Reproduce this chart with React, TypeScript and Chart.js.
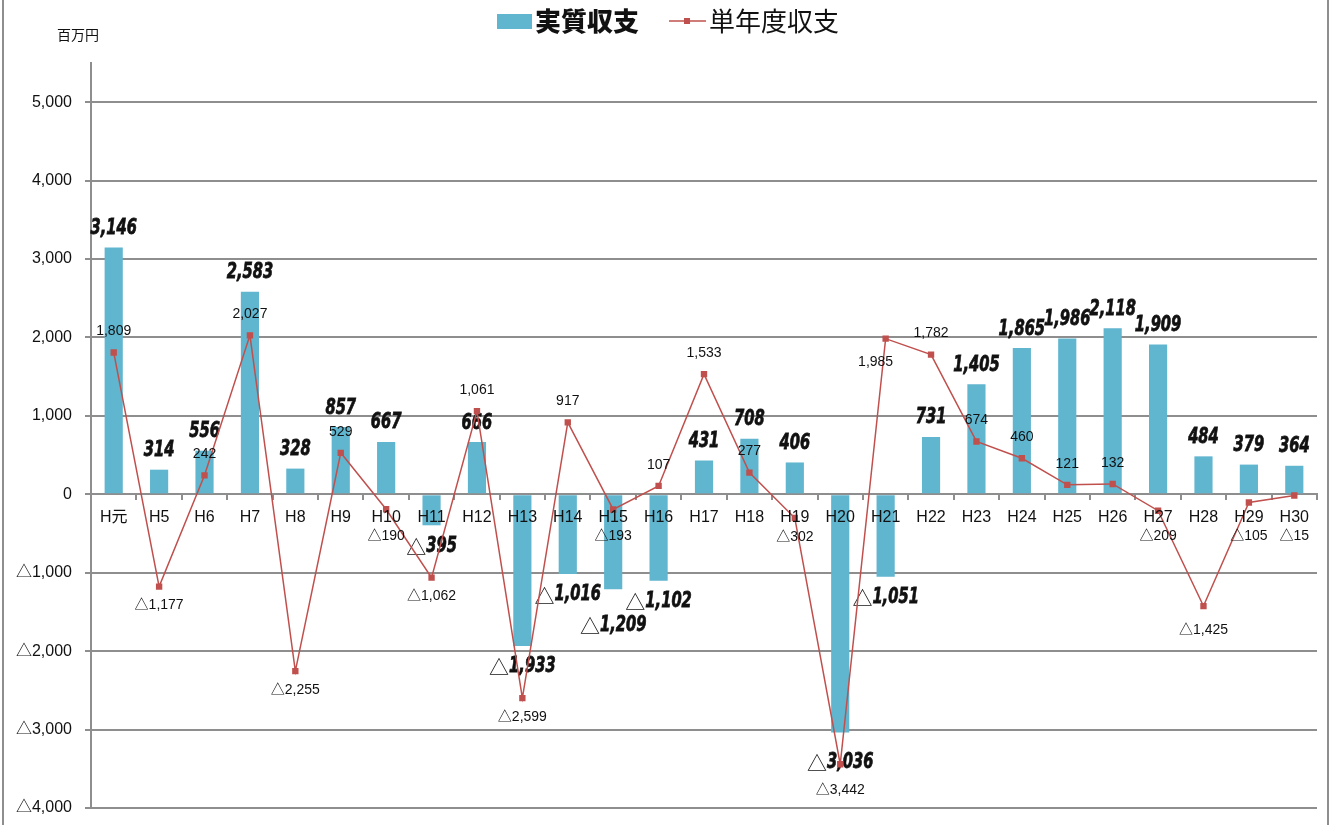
import React, { useEffect, useRef } from 'react';
import { Chart, registerables } from 'chart.js';

Chart.register(...registerables);

// ---- data ----
const categories = ['H元', 'H5', 'H6', 'H7', 'H8', 'H9', 'H10', 'H11', 'H12', 'H13', 'H14', 'H15', 'H16', 'H17', 'H18', 'H19', 'H20', 'H21', 'H22', 'H23', 'H24', 'H25', 'H26', 'H27', 'H28', 'H29', 'H30'];
const actualBalance = [3146, 314, 556, 2583, 328, 857, 667, -395, 666, -1933, -1016, -1209, -1102, 431, 708, 406, -3036, -1051, 731, 1405, 1865, 1986, 2118, 1909, 484, 379, 364];
const singleYearBalance = [1809, -1177, 242, 2027, -2255, 529, -190, -1062, 1061, -2599, 917, -193, 107, 1533, 277, -302, -3442, 1985, 1782, 674, 460, 121, 132, -209, -1425, -105, -15];
const yTickValues = [-4000, -3000, -2000, -1000, 0, 1000, 2000, 3000, 4000, 5000];
const barSeriesName = '実質収支';
const lineSeriesName = '単年度収支';
const unitLabel = '百万円';
const yMin = -4000;
const yMax = 5500;
// label placement tweaks (style only)
const lineLabelBelowLeft = ['H21'];
const barLabelExtraDrop: Record<string, number> = { H15: 15, H20: 9 };
const lineLabelExtraDrop: Record<string, number> = { H20: 7, H28: 5 };

// ---- style ----
const BAR_COLOR = '#60b5cf';
const LINE_COLOR = '#c0504d';
const GRID_COLOR = '#8e8e8e';
const TEXT_COLOR = '#111111';
const SANS = "'Liberation Sans', 'Noto Sans CJK JP', sans-serif";
const POP = "'DejaVu Sans', 'Noto Sans CJK JP', sans-serif";
const CJK = "'Noto Sans CJK JP', sans-serif";

const NEG = '△';
const fmtAbs = (v: number) => Math.abs(v).toLocaleString('en-US');
const fmt = (v: number) => (v < 0 ? NEG + fmtAbs(v) : fmtAbs(v));

const decorPlugin = {
  id: 'decor',
  beforeDraw(chart: any) {
    const ctx = chart.ctx;
    ctx.save();
    ctx.fillStyle = '#ffffff';
    ctx.fillRect(0, 0, chart.width, chart.height);
    ctx.strokeStyle = GRID_COLOR;
    ctx.lineWidth = 2;
    ctx.beginPath();
    ctx.moveTo(3, 0);
    ctx.lineTo(3, chart.height);
    ctx.moveTo(1328, 0);
    ctx.lineTo(1328, chart.height);
    ctx.stroke();
    ctx.restore();
  },
  afterDatasetDraw(chart: any, args: any) {
    if (args.index !== 0) return;
    const ctx = chart.ctx;
    const meta = chart.getDatasetMeta(0);
    const sx = 0.7;
    ctx.save();
    ctx.fillStyle = TEXT_COLOR;
    ctx.strokeStyle = TEXT_COLOR;
    ctx.textAlign = 'left';
    ctx.textBaseline = 'middle';
    meta.data.forEach((el: any, i: number) => {
      const v = actualBalance[i];
      const extra = barLabelExtraDrop[categories[i]] || 0;
      const y = v >= 0 ? el.y - 19 : el.y + 21 + extra;
      const prefix = v < 0 ? NEG : '';
      const digits = fmtAbs(v);
      ctx.font = `20px ${CJK}`;
      const pw = prefix ? ctx.measureText(prefix).width : 0;
      ctx.font = `italic bold 21px ${POP}`;
      const dw = ctx.measureText(digits).width * sx;
      const start = el.x - (pw + dw) / 2;
      if (prefix) {
        ctx.font = `20px ${CJK}`;
        ctx.fillText(prefix, start, y + 1);
      }
      ctx.font = `italic bold 21px ${POP}`;
      ctx.save();
      ctx.translate(start + pw, y);
      ctx.scale(sx, 1);
      ctx.lineWidth = 0.8;
      ctx.fillText(digits, 0, 0);
      ctx.strokeText(digits, 0, 0);
      ctx.restore();
    });
    ctx.restore();
  },
  afterDatasetsDraw(chart: any) {
    const ctx = chart.ctx;
    const meta = chart.getDatasetMeta(1);
    const zeroY = chart.scales.y.getPixelForValue(0);
    ctx.save();
    ctx.fillStyle = TEXT_COLOR;
    ctx.textAlign = 'center';
    ctx.textBaseline = 'middle';
    ctx.font = `14px ${SANS}`;
    meta.data.forEach((el: any, i: number) => {
      const v = singleYearBalance[i];
      let x = el.x;
      let y;
      if (lineLabelBelowLeft.includes(categories[i])) {
        x = el.x - 10;
        y = el.y + 23;
      } else if (v >= 0) {
        y = el.y - 21;
      } else {
        y = Math.max(el.y + 19 + (lineLabelExtraDrop[categories[i]] || 0), zeroY + 42);
      }
      ctx.fillText(fmt(v), x, y);
    });

    // legend
    ctx.fillStyle = BAR_COLOR;
    ctx.fillRect(497, 14, 35, 15);
    ctx.fillStyle = TEXT_COLOR;
    ctx.textAlign = 'left';
    ctx.font = `900 26px ${CJK}`;
    ctx.fillText(barSeriesName, 535, 21);
    ctx.strokeStyle = LINE_COLOR;
    ctx.lineWidth = 1.5;
    ctx.beginPath();
    ctx.moveTo(669, 21);
    ctx.lineTo(706, 21);
    ctx.stroke();
    ctx.fillStyle = LINE_COLOR;
    ctx.fillRect(684, 18, 6, 6);
    ctx.fillStyle = TEXT_COLOR;
    ctx.font = `26px ${CJK}`;
    ctx.fillText(lineSeriesName, 709, 21);

    // unit
    ctx.font = `14px ${CJK}`;
    ctx.fillText(unitLabel, 57, 35);
    ctx.restore();
  },
};

export default function App() {
  const ref = useRef<HTMLCanvasElement | null>(null);
  useEffect(() => {
    if (!ref.current) return;
    const chart = new Chart(ref.current, {
      type: 'bar',
      data: {
        labels: categories,
        datasets: [
          {
            type: 'bar',
            label: barSeriesName,
            data: actualBalance,
            backgroundColor: BAR_COLOR,
            categoryPercentage: 1,
            barPercentage: 0.4,
            order: 1,
          },
          {
            type: 'line',
            label: lineSeriesName,
            data: singleYearBalance,
            borderColor: LINE_COLOR,
            backgroundColor: LINE_COLOR,
            borderWidth: 1.5,
            pointStyle: 'rect',
            pointRadius: 4.5,
            pointBorderWidth: 0,
            pointBackgroundColor: LINE_COLOR,
            tension: 0,
            order: 0,
          },
        ],
      },
      options: {
        responsive: false,
        animation: false,
        layout: { padding: { left: 0, right: 15, top: 63, bottom: 17 } },
        plugins: {
          legend: { display: false },
          tooltip: { enabled: false },
          title: { display: false },
        },
        scales: {
          x: {
            position: { y: 0 } as any,
            grid: {
              display: true,
              drawOnChartArea: false,
              drawTicks: true,
              tickLength: 5,
              color: GRID_COLOR,
              lineWidth: 2,
              offset: true,
            },
            border: { display: true, color: GRID_COLOR, width: 2 },
            ticks: {
              z: 1,
              color: TEXT_COLOR,
              font: { family: SANS, size: 16 },
              padding: 9,
              maxRotation: 0,
              autoSkip: false,
            },
          },
          y: {
            min: yMin,
            max: yMax,
            grid: { color: GRID_COLOR, lineWidth: 2, tickLength: 6, drawTicks: true },
            border: { display: true, color: GRID_COLOR, width: 2 },
            ticks: {
              color: TEXT_COLOR,
              font: { family: SANS, size: 16 },
              padding: 13,
              callback: (v: any) => fmt(Number(v)),
            },
            afterBuildTicks: (scale: any) => {
              scale.ticks = yTickValues.map((v) => ({ value: v }));
            },
            afterFit: (scale: any) => {
              scale.width = 91;
              scale.paddingTop = 0;
              scale.paddingBottom = 0;
            },
          },
        },
      },
      plugins: [decorPlugin],
    });
    return () => chart.destroy();
  }, []);
  return (
    <div style={{ position: 'absolute', left: 0, top: 0, width: 1332, height: 825, background: '#fff' }}>
      <canvas ref={ref} width={1332} height={825} style={{ display: 'block' }} />
    </div>
  );
}
